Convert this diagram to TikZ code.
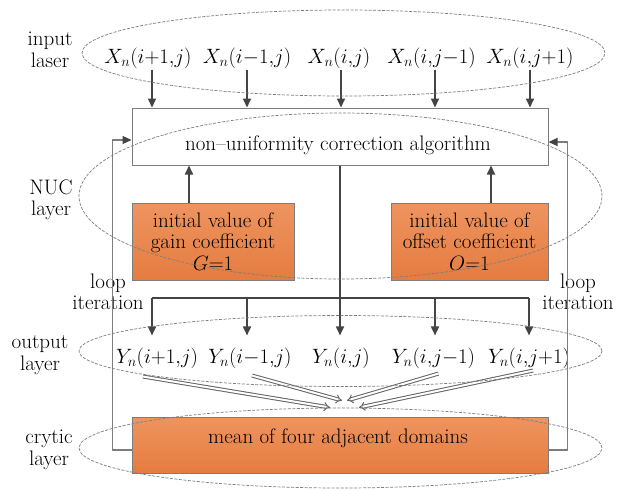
\documentclass[tikz,border=0pt]{standalone}
\usetikzlibrary{arrows.meta,calc}
\definecolor{dk}{RGB}{68,68,68}
\definecolor{lg}{RGB}{125,125,125}
\definecolor{dg}{RGB}{100,100,100}
\definecolor{ogl}{RGB}{238,148,96}
\definecolor{ogd}{RGB}{229,124,64}
\begin{document}
\begin{tikzpicture}[x=1pt,y=-1pt,
  every node/.style={font=\fontsize{21}{21.5}\selectfont, inner sep=1pt},
  lbl/.style={align=center},
  arr/.style={draw=dk, line width=1.7pt, -{Triangle[length=9pt,width=8pt]}},
  bus/.style={draw=dk, line width=1.2pt},
  loopl/.style={draw=lg, line width=1.1pt, -{Triangle[length=9pt,width=8pt,color=dk]}},
  wbox/.style={draw=lg, line width=1pt, fill=white},
  obox/.style={draw=lg, line width=1pt, top color=ogl, bottom color=ogd, align=center},
  layer/.style={draw=lg, dash pattern=on 3pt off 1.5pt, line width=0.7pt},
  dbl/.style={draw=dg, line width=1pt, double=white, double distance=2pt, -{Implies}}
]
\fill[white] (0,0) rectangle (618,490);
\useasboundingbox (0,0) rectangle (618,490);

% boxes
\node[wbox, minimum width=416pt, minimum height=57pt] (nuc) at (340,136.5) {};
\node (nuctext) at (338,145) {non--uniformity correction algorithm};
\node[obox, minimum width=162pt, minimum height=77pt] (gain) at (213,241.5) {initial value of\\gain coefficient\\$G{=}1$};
\node[obox, minimum width=157pt, minimum height=77pt] (offset) at (469.5,241.5) {initial value of\\offset coefficient\\$O{=}1$};
\node[obox, minimum width=416pt, minimum height=56pt] (crytic) at (340,445) {};
\node (crytictext) at (338,438) {mean of four adjacent domains};

% side labels
\node[lbl] (inlab) at (50,50) {input\\laser};
\node[lbl] (nuclab) at (51,200) {NUC\\layer};
\node[lbl] (outlab) at (40,355) {output\\layer};
\node[lbl] (crylab) at (49,450) {crytic\\layer};
\node[lbl] (loopL) at (108,292) {loop\\iteration};
\node[lbl] (loopR) at (578,292) {loop\\iteration};

% input labels
\node (xa) at (148,58) {$X_n(i{+}1{,}j)$};
\node (xb) at (247,58) {$X_n(i{-}1{,}j)$};
\node (xc) at (339,58) {$X_n(i{,}j)$};
\node (xd) at (431.5,58) {$X_n(i{,}j{-}1)$};
\node (xe) at (530,58) {$X_n(i{,}j{+}1)$};

% output labels
\node (ya) at (157,358) {$Y_n(i{+}1{,}j)$};
\node (yb) at (250,358) {$Y_n(i{-}1{,}j)$};
\node (yc) at (341,358) {$Y_n(i{,}j)$};
\node (yd) at (433.5,358) {$Y_n(i{,}j{-}1)$};
\node (ye) at (529,358) {$Y_n(i{,}j{+}1)$};

% input arrows
\draw[arr] ([xshift=4pt]xa.south) -- ([xshift=4pt]xa.south |- nuc.north);
\draw[arr] (xb.south) -- (xb.south |- nuc.north);
\draw[arr] ([xshift=2pt]xc.south) -- ([xshift=2pt]xc.south |- nuc.north);
\draw[arr] ([xshift=3.5pt]xd.south) -- ([xshift=3.5pt]xd.south |- nuc.north);
\draw[arr] (xe.south) -- (xe.south |- nuc.north);

% coefficient arrows
\draw[arr] ([xshift=-24pt]gain.north) -- ([xshift=-24pt]gain.north |- nuc.south);
\draw[arr] ([xshift=21.5pt]offset.north) -- ([xshift=21.5pt]offset.north |- nuc.south);

% distribution bus
\coordinate (busL) at (152,298);
\coordinate (busR) at (529,298);
\draw[bus] (nuc.south) -- (nuc.south |- busL);
\draw[bus] (busL) -- (busR);
\draw[arr, shorten >=11pt] (busL) -- (busL |- ya.north);
\draw[arr, shorten >=11pt] ([xshift=-3pt]yb.north |- busL) -- ([xshift=-3pt]yb.north);
\draw[arr, shorten >=11pt] ([xshift=-1pt]yc.north |- busL) -- ([xshift=-1pt]yc.north);
\draw[arr, shorten >=11pt] ([xshift=1.5pt]yd.north |- busL) -- ([xshift=1.5pt]yd.north);
\draw[arr, shorten >=11pt] (busR) -- (busR |- ye.north);

% loop iteration
\draw[loopl] ([yshift=-5pt]crytic.west) -- ++(-19,0) |- ([yshift=-3.5pt]nuc.west);
\draw[loopl] ([yshift=-5pt]crytic.east) -- ++(19,0) |- ([yshift=-5.5pt]nuc.east);

% double arrows to crytic layer
\draw[dbl] ($(ya.south)+(-14,7)$) -- ($(crytic.north)+(-10,-9)$);
\draw[dbl] ($(yb.south)+(2,6)$) -- ($(crytic.north)+(2,-16)$);
\draw[dbl] ($(yd.south)+(5,4)$) -- ($(crytic.north)+(7,-16)$);
\draw[dbl] ($(ye.south)+(4,1)$) -- ($(crytic.north)+(19,-9)$);

% layer ellipses
\draw[layer] (343.5,53) ellipse [x radius=261.5pt, y radius=43pt];
\draw[layer] (340.5,196) ellipse [x radius=261.5pt, y radius=83pt];
\draw[layer] (340.5,351) ellipse [x radius=261.5pt, y radius=35.5pt];
\draw[layer] (340.5,448) ellipse [x radius=261.5pt, y radius=40pt];
\end{tikzpicture}
\end{document}
